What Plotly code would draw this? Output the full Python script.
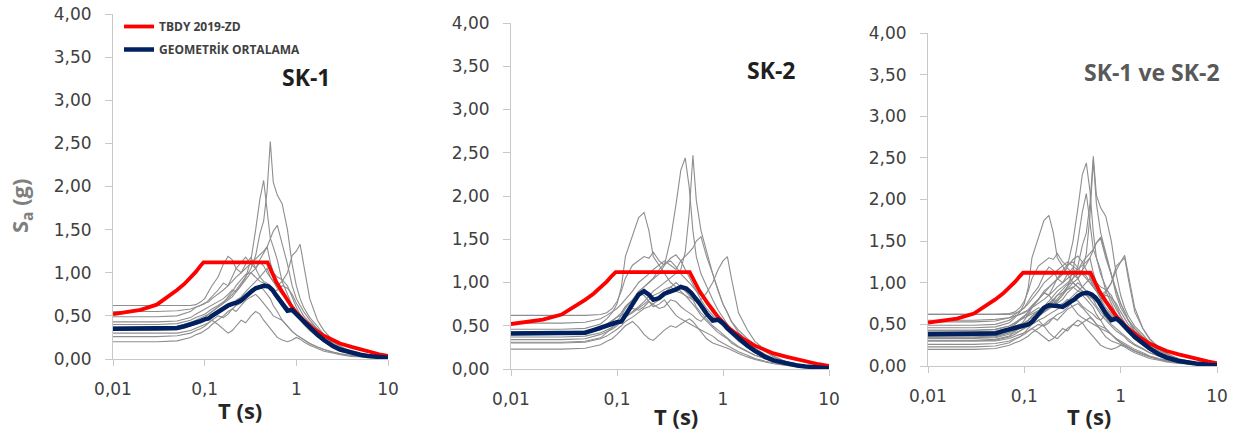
import plotly.graph_objects as go

# ---------------- DATA ----------------
# common period grid (s) of the individual record spectra
T_GRID = [0.01, 0.03, 0.05, 0.07, 0.08, 0.09, 0.10, 0.11, 0.12, 0.14, 0.16, 0.18, 0.20,
          0.22, 0.25, 0.28, 0.32, 0.36, 0.40, 0.44, 0.48, 0.52, 0.56, 0.62, 0.70, 0.80,
          0.90, 1.00, 1.10, 1.20, 1.40, 1.70, 2.00, 2.50, 3.00, 4.00, 6.00, 10.0]

# SK-1 record spectra Sa (g)
sk1_r01 = [0.40, 0.40, 0.41, 0.45, 0.48, 0.50, 0.52, 0.55, 0.58, 0.62, 0.66, 0.70, 0.75, 0.80, 0.88, 0.95, 1.05, 1.20, 1.45, 1.60, 1.95, 2.52, 2.05, 1.90, 1.80, 1.50, 1.10, 0.85, 0.70, 0.60, 0.48, 0.38, 0.28, 0.18, 0.12, 0.07, 0.03, 0.01]
sk1_r02 = [0.37, 0.37, 0.38, 0.42, 0.45, 0.48, 0.50, 0.52, 0.55, 0.60, 0.64, 0.68, 0.72, 0.78, 0.85, 0.95, 1.15, 1.50, 1.85, 2.07, 1.70, 1.40, 1.30, 1.15, 0.90, 0.75, 0.62, 0.55, 0.48, 0.42, 0.34, 0.27, 0.21, 0.15, 0.11, 0.06, 0.03, 0.01]
sk1_r03 = [0.49, 0.49, 0.50, 0.55, 0.60, 0.62, 0.64, 0.68, 0.72, 0.80, 0.88, 0.85, 0.90, 0.95, 1.00, 1.05, 1.10, 1.15, 1.20, 1.25, 1.30, 1.40, 1.48, 1.55, 1.35, 1.10, 0.85, 0.70, 0.62, 0.55, 0.45, 0.35, 0.28, 0.20, 0.14, 0.09, 0.04, 0.02]
sk1_r04 = [0.33, 0.33, 0.34, 0.38, 0.40, 0.42, 0.45, 0.47, 0.50, 0.55, 0.58, 0.62, 0.65, 0.68, 0.72, 0.78, 0.85, 0.90, 0.95, 1.00, 1.05, 0.95, 0.90, 0.85, 0.90, 1.00, 1.20, 1.25, 1.33, 1.10, 0.70, 0.45, 0.33, 0.22, 0.15, 0.08, 0.04, 0.02]
sk1_r05 = [0.62, 0.62, 0.62, 0.62, 0.63, 0.66, 0.70, 0.78, 0.85, 0.95, 1.10, 1.19, 1.15, 1.05, 1.00, 1.10, 1.18, 1.05, 0.95, 0.90, 0.88, 0.85, 0.80, 0.75, 0.68, 0.60, 0.55, 0.50, 0.45, 0.40, 0.33, 0.26, 0.20, 0.14, 0.10, 0.06, 0.03, 0.01]
sk1_r06 = [0.55, 0.55, 0.56, 0.58, 0.60, 0.62, 0.65, 0.66, 0.70, 0.75, 0.80, 0.85, 0.95, 1.05, 1.12, 1.18, 1.10, 1.05, 1.12, 1.08, 1.00, 0.95, 0.90, 0.82, 0.75, 0.70, 0.62, 0.55, 0.50, 0.45, 0.37, 0.28, 0.22, 0.15, 0.11, 0.06, 0.03, 0.01]
sk1_r07 = [0.43, 0.43, 0.44, 0.48, 0.52, 0.55, 0.58, 0.60, 0.62, 0.66, 0.70, 0.75, 0.80, 0.78, 0.85, 0.92, 1.00, 1.05, 1.15, 1.22, 1.30, 1.12, 1.00, 0.95, 0.92, 0.85, 0.72, 0.60, 0.52, 0.45, 0.38, 0.30, 0.23, 0.16, 0.12, 0.07, 0.03, 0.01]
sk1_r08 = [0.30, 0.30, 0.30, 0.33, 0.36, 0.38, 0.40, 0.42, 0.45, 0.50, 0.48, 0.52, 0.58, 0.55, 0.62, 0.68, 0.72, 0.75, 0.70, 0.65, 0.60, 0.55, 0.50, 0.48, 0.45, 0.38, 0.32, 0.28, 0.25, 0.22, 0.18, 0.14, 0.11, 0.08, 0.06, 0.04, 0.02, 0.01]
sk1_r09 = [0.26, 0.26, 0.27, 0.30, 0.33, 0.35, 0.38, 0.42, 0.45, 0.40, 0.35, 0.30, 0.33, 0.38, 0.45, 0.42, 0.50, 0.55, 0.52, 0.45, 0.40, 0.35, 0.30, 0.25, 0.22, 0.20, 0.22, 0.25, 0.23, 0.20, 0.16, 0.12, 0.09, 0.07, 0.05, 0.03, 0.02, 0.01]
sk1_r10 = [0.20, 0.20, 0.21, 0.25, 0.28, 0.30, 0.33, 0.36, 0.40, 0.45, 0.50, 0.55, 0.58, 0.62, 0.65, 0.70, 0.78, 0.82, 0.85, 0.80, 0.75, 0.70, 0.62, 0.55, 0.45, 0.38, 0.32, 0.28, 0.25, 0.22, 0.18, 0.14, 0.11, 0.08, 0.06, 0.04, 0.02, 0.01]
sk1_r11 = [0.35, 0.35, 0.36, 0.40, 0.42, 0.45, 0.48, 0.52, 0.55, 0.60, 0.65, 0.72, 0.78, 0.85, 0.92, 0.98, 1.00, 0.95, 0.90, 0.88, 0.85, 0.80, 0.78, 0.80, 0.85, 0.82, 0.75, 0.65, 0.58, 0.50, 0.42, 0.35, 0.27, 0.18, 0.13, 0.08, 0.04, 0.02]

# SK-2 record spectra Sa (g)
sk2_r01 = [0.46, 0.46, 0.47, 0.52, 0.58, 0.65, 0.75, 0.95, 1.30, 1.55, 1.75, 1.81, 1.60, 1.30, 1.20, 1.10, 1.00, 0.95, 0.90, 0.85, 0.80, 0.75, 0.70, 0.62, 0.55, 0.48, 0.42, 0.38, 0.35, 0.30, 0.25, 0.20, 0.16, 0.12, 0.09, 0.05, 0.03, 0.01]
sk2_r02 = [0.41, 0.41, 0.42, 0.46, 0.50, 0.55, 0.60, 0.65, 0.72, 0.80, 0.90, 0.95, 1.00, 1.05, 1.10, 1.20, 1.50, 1.90, 2.30, 2.44, 2.10, 1.60, 1.30, 1.10, 0.95, 0.80, 0.68, 0.60, 0.52, 0.45, 0.36, 0.28, 0.21, 0.15, 0.11, 0.06, 0.03, 0.01]
sk2_r03 = [0.37, 0.37, 0.38, 0.42, 0.45, 0.48, 0.52, 0.55, 0.60, 0.66, 0.72, 0.78, 0.85, 0.90, 0.95, 1.00, 1.05, 1.10, 1.15, 1.35, 1.80, 2.47, 1.95, 1.60, 1.35, 1.10, 0.90, 0.75, 0.65, 0.55, 0.42, 0.32, 0.24, 0.17, 0.12, 0.07, 0.03, 0.01]
sk2_r04 = [0.34, 0.34, 0.35, 0.40, 0.43, 0.46, 0.50, 0.55, 0.60, 0.65, 0.70, 0.75, 0.80, 0.85, 0.88, 0.92, 0.95, 0.90, 0.88, 0.85, 0.82, 0.80, 0.78, 0.80, 0.88, 1.00, 1.15, 1.25, 1.30, 1.05, 0.65, 0.45, 0.32, 0.22, 0.15, 0.08, 0.04, 0.02]
sk2_r05 = [0.53, 0.53, 0.54, 0.58, 0.62, 0.66, 0.70, 0.75, 0.80, 0.90, 1.00, 1.05, 1.10, 1.15, 1.20, 1.25, 1.20, 1.15, 1.25, 1.30, 1.35, 1.40, 1.48, 1.53, 1.30, 1.10, 0.90, 0.75, 0.65, 0.55, 0.45, 0.35, 0.28, 0.20, 0.14, 0.08, 0.04, 0.02]
sk2_r06 = [0.62, 0.62, 0.62, 0.63, 0.65, 0.70, 0.78, 0.90, 1.05, 1.20, 1.25, 1.30, 1.28, 1.35, 1.25, 1.20, 1.28, 1.32, 1.25, 1.15, 1.05, 0.98, 0.90, 0.80, 0.70, 0.62, 0.55, 0.50, 0.45, 0.40, 0.33, 0.26, 0.20, 0.14, 0.10, 0.06, 0.03, 0.01]
sk2_r07 = [0.23, 0.23, 0.24, 0.28, 0.32, 0.35, 0.40, 0.45, 0.50, 0.55, 0.48, 0.40, 0.35, 0.33, 0.40, 0.45, 0.50, 0.48, 0.52, 0.55, 0.58, 0.55, 0.50, 0.42, 0.35, 0.30, 0.28, 0.26, 0.24, 0.22, 0.18, 0.14, 0.11, 0.08, 0.06, 0.04, 0.02, 0.01]
sk2_r08 = [0.43, 0.43, 0.44, 0.48, 0.52, 0.56, 0.60, 0.65, 0.72, 0.80, 0.88, 0.95, 1.00, 1.05, 1.15, 1.22, 1.25, 1.18, 1.10, 1.05, 1.00, 0.95, 0.90, 0.85, 0.75, 0.65, 0.58, 0.52, 0.47, 0.42, 0.35, 0.28, 0.21, 0.15, 0.11, 0.06, 0.03, 0.01]
sk2_r09 = [0.31, 0.31, 0.32, 0.36, 0.42, 0.48, 0.55, 0.62, 0.70, 0.80, 0.88, 0.85, 0.78, 0.72, 0.75, 0.80, 0.70, 0.62, 0.58, 0.55, 0.52, 0.50, 0.48, 0.45, 0.42, 0.38, 0.33, 0.30, 0.27, 0.24, 0.20, 0.16, 0.12, 0.09, 0.07, 0.04, 0.02, 0.01]
sk2_r10 = [0.30, 0.30, 0.31, 0.35, 0.38, 0.42, 0.46, 0.50, 0.55, 0.60, 0.65, 0.70, 0.72, 0.75, 0.80, 0.88, 0.95, 1.00, 0.95, 0.90, 0.85, 0.80, 0.72, 0.65, 0.58, 0.50, 0.45, 0.40, 0.36, 0.32, 0.26, 0.21, 0.16, 0.12, 0.09, 0.05, 0.03, 0.01]
sk2_r11 = [0.40, 0.40, 0.41, 0.45, 0.50, 0.55, 0.60, 0.62, 0.65, 0.70, 0.68, 0.72, 0.78, 0.75, 0.70, 0.72, 0.80, 0.78, 0.72, 0.68, 0.65, 0.62, 0.58, 0.55, 0.62, 0.60, 0.55, 0.50, 0.45, 0.40, 0.32, 0.25, 0.19, 0.14, 0.10, 0.06, 0.03, 0.01]

# TBDY 2019 design spectrum (ZD)
tbdy_T = [0.01, 0.02, 0.03, 0.04, 0.05, 0.06, 0.07, 0.08, 0.09, 0.097, 0.485, 0.6, 0.7, 0.8, 0.9,
          1.0, 1.2, 1.5, 2.0, 2.5, 3.0, 4.0, 5.0, 6.0, 7.0, 8.0, 9.0, 10.0]
tbdy_Sa = [0.52, 0.57, 0.63, 0.72, 0.80, 0.87, 0.94, 1.01, 1.08, 1.12, 1.12, 0.90, 0.78, 0.68, 0.60,
           0.54, 0.45, 0.36, 0.27, 0.22, 0.18, 0.14, 0.11, 0.09, 0.07, 0.055, 0.045, 0.035]

# geometric means
gm_T = [0.01, 0.03, 0.05, 0.06, 0.07, 0.08, 0.09, 0.10, 0.11, 0.12, 0.14, 0.16, 0.18, 0.20, 0.22,
        0.25, 0.28, 0.30, 0.33, 0.36, 0.40, 0.45, 0.50, 0.55, 0.60, 0.70, 0.80, 0.90, 1.0, 1.1,
        1.2, 1.4, 1.7, 2.0, 2.5, 3.0, 4.0, 5.0, 6.0, 8.0, 10.0]
gm_sk1 = [0.35, 0.35, 0.36, 0.38, 0.40, 0.42, 0.44, 0.46, 0.47, 0.50, 0.55, 0.58, 0.62, 0.64, 0.65,
          0.68, 0.73, 0.76, 0.79, 0.82, 0.84, 0.85, 0.84, 0.80, 0.74, 0.64, 0.56, 0.57, 0.52, 0.47,
          0.43, 0.36, 0.28, 0.22, 0.15, 0.11, 0.07, 0.05, 0.035, 0.02, 0.015]
gm_sk2 = [0.41, 0.41, 0.42, 0.45, 0.48, 0.51, 0.53, 0.54, 0.55, 0.62, 0.75, 0.86, 0.90, 0.86, 0.80,
          0.82, 0.87, 0.88, 0.90, 0.92, 0.95, 0.93, 0.88, 0.82, 0.76, 0.64, 0.56, 0.57, 0.53, 0.47,
          0.43, 0.35, 0.27, 0.21, 0.14, 0.10, 0.06, 0.04, 0.03, 0.015, 0.01]
gm_sk12 = [0.38, 0.38, 0.39, 0.42, 0.44, 0.46, 0.48, 0.49, 0.50, 0.53, 0.62, 0.70, 0.73, 0.73, 0.72,
           0.71, 0.74, 0.77, 0.80, 0.84, 0.87, 0.88, 0.86, 0.82, 0.76, 0.63, 0.55, 0.57, 0.53, 0.47,
           0.43, 0.35, 0.27, 0.21, 0.14, 0.10, 0.06, 0.04, 0.03, 0.015, 0.01]

# axes ticks
y_tickvals = [0, 0.5, 1.0, 1.5, 2.0, 2.5, 3.0, 3.5, 4.0]
y_ticktext = ["0,00", "0,50", "1,00", "1,50", "2,00", "2,50", "3,00", "3,50", "4,00"]
x_tickvals = [0.01, 0.1, 1, 10]
x_ticktext = ["0,01", "0,1", "1", "10"]

panel_titles = ["SK-1", "SK-2", "SK-1 ve SK-2"]
legend_names = ["TBDY 2019-ZD", "GEOMETRİK ORTALAMA"]

# ---------------- FIGURE ----------------
W, H = 1242, 437
sk1 = [sk1_r01, sk1_r02, sk1_r03, sk1_r04, sk1_r05, sk1_r06, sk1_r07, sk1_r08, sk1_r09, sk1_r10, sk1_r11]
sk2 = [sk2_r01, sk2_r02, sk2_r03, sk2_r04, sk2_r05, sk2_r06, sk2_r07, sk2_r08, sk2_r09, sk2_r10, sk2_r11]
panel_records = [sk1, sk2, sk1 + sk2]
panel_gm = [gm_sk1, gm_sk2, gm_sk12]

# plot-area pixel boxes (left, right, top, bottom)
boxes = [(113, 388, 14, 359), (511, 829, 23, 369), (928, 1217, 33, 366)]

GRAY = "#8e8e8e"
RED = "#ff0000"
BLUE = "#002060"
AXIS = "#c8c8c8"

fig = go.Figure()
for i in range(3):
    xa = "x" if i == 0 else f"x{i+1}"
    ya = "y" if i == 0 else f"y{i+1}"
    for rec in panel_records[i]:
        fig.add_trace(go.Scatter(x=T_GRID, y=rec, mode="lines", xaxis=xa, yaxis=ya,
                                 line=dict(color=GRAY, width=1.1), showlegend=False,
                                 hoverinfo="skip"))
    fig.add_trace(go.Scatter(x=tbdy_T, y=tbdy_Sa, mode="lines", xaxis=xa, yaxis=ya,
                             line=dict(color=RED, width=3.8), name=legend_names[0],
                             legendgroup="a", showlegend=(i == 0)))
    fig.add_trace(go.Scatter(x=gm_T, y=panel_gm[i], mode="lines", xaxis=xa, yaxis=ya,
                             line=dict(color=BLUE, width=4.5), name=legend_names[1],
                             legendgroup="b", showlegend=(i == 0)))

tickfont = dict(family="DejaVu Sans", size=17, color="#404040")
layout = dict(template="none", width=W, height=H, margin=dict(l=0, r=0, t=0, b=0, pad=0),
              paper_bgcolor="white", plot_bgcolor="white", autosize=False)
for i, (l, r, t, b) in enumerate(boxes):
    sx = "" if i == 0 else str(i + 1)
    layout["xaxis" + sx] = dict(
        type="log", range=[-2, 1], domain=[l / W, r / W], anchor="y" + sx,
        tickvals=x_tickvals, ticktext=x_ticktext, ticks="outside", ticklen=6,
        tickcolor=AXIS, showline=True, linecolor=AXIS, linewidth=1, showgrid=False,
        zeroline=False, tickfont=tickfont, ticklabelstandoff=9, automargin=False)
    layout["yaxis" + sx] = dict(
        range=[0, 4], domain=[1 - b / H, 1 - t / H], anchor="x" + sx,
        tickvals=y_tickvals, ticktext=y_ticktext, ticks="outside", ticklen=7,
        tickcolor=AXIS, showline=True, linecolor=AXIS, linewidth=1, showgrid=False,
        zeroline=False, tickfont=tickfont, ticklabelstandoff=10, automargin=False)
fig.update_layout(**layout)

fig.update_layout(
    legend=dict(x=119 / W, y=1 - 12 / H, xanchor="left", yanchor="top",
                bgcolor="rgba(0,0,0,0)", traceorder="grouped", tracegroupgap=4,
                font=dict(family="Open Sans", size=12, color="#404040", weight="bold"),
                itemwidth=30)
)

annotations = []
title_pos = [(306, 77, "#1f1f1f"), (771, 70, "#1f1f1f"), (1152, 72, "#595959")]
for (cx, cy, col), txt in zip(title_pos, panel_titles):
    annotations.append(dict(x=cx / W, y=1 - cy / H, xref="paper", yref="paper",
                            text=txt, showarrow=False, xanchor="center", yanchor="middle",
                            font=dict(family="Open Sans", size=23, color=col, weight="bold")))
for cx, cy in [(240, 410), (676, 416), (1089, 416)]:
    annotations.append(dict(x=cx / W, y=1 - cy / H, xref="paper", yref="paper",
                            text="T (s)", showarrow=False, xanchor="center", yanchor="middle",
                            font=dict(family="Open Sans", size=22, color="#262626", weight="bold")))
annotations.append(dict(x=21 / W, y=1 - 206 / H, xref="paper", yref="paper",
                        text="S<sub>a</sub> (g)", showarrow=False, textangle=-90,
                        xanchor="center", yanchor="middle",
                        font=dict(family="Open Sans", size=22, color="#7f7f7f", weight="bold")))
fig.update_layout(annotations=annotations)

fig.write_html("out.html", config={"displayModeBar": False},
               post_script="document.body.style.margin='0';")
